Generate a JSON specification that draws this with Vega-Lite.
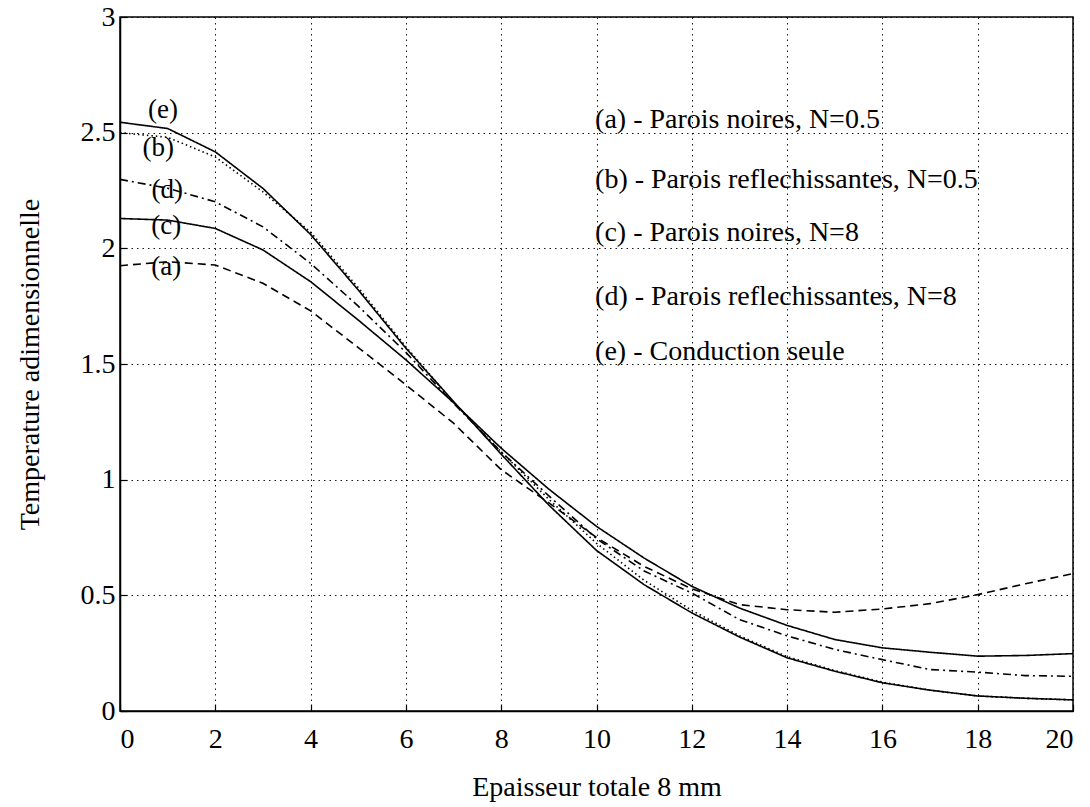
{
  "$schema": "https://vega.github.io/schema/vega-lite/v6.json",
  "width": 953,
  "height": 694,
  "autosize": {"type": "none"},
  "padding": {"left": 120, "top": 17, "right": 17, "bottom": 96},
  "background": "white",
  "config": {
    "font": "Liberation Serif, Times New Roman, serif",
    "view": {"stroke": "black", "strokeWidth": 1.5},
    "axis": {
      "labelFont": "Liberation Serif, Times New Roman, serif",
      "titleFont": "Liberation Serif, Times New Roman, serif",
      "labelColor": "black",
      "titleColor": "black",
      "labelFontSize": 28,
      "titleFontSize": 28,
      "titleFontWeight": "normal",
      "domainColor": "black",
      "domainWidth": 1.5,
      "tickColor": "black",
      "tickSize": -7,
      "tickWidth": 1.2,
      "gridColor": "black",
      "gridDash": [1.5, 4],
      "gridWidth": 1,
      "gridOpacity": 0.9
    }
  },
  "datasets": {
    "curves": [
      {"x": 0, "T": 2.545, "curve": "e"}, {"x": 1, "T": 2.518, "curve": "e"}, {"x": 2, "T": 2.417, "curve": "e"}, {"x": 3, "T": 2.259, "curve": "e"}, {"x": 4, "T": 2.06, "curve": "e"}, {"x": 5, "T": 1.82, "curve": "e"}, {"x": 6, "T": 1.568, "curve": "e"}, {"x": 7, "T": 1.338, "curve": "e"}, {"x": 8, "T": 1.11, "curve": "e"}, {"x": 9, "T": 0.89, "curve": "e"}, {"x": 10, "T": 0.694, "curve": "e"}, {"x": 11, "T": 0.546, "curve": "e"}, {"x": 12, "T": 0.424, "curve": "e"}, {"x": 13, "T": 0.32, "curve": "e"}, {"x": 14, "T": 0.23, "curve": "e"}, {"x": 15, "T": 0.172, "curve": "e"}, {"x": 16, "T": 0.122, "curve": "e"}, {"x": 17, "T": 0.09, "curve": "e"}, {"x": 18, "T": 0.065, "curve": "e"}, {"x": 19, "T": 0.055, "curve": "e"}, {"x": 20, "T": 0.048, "curve": "e"},
      {"x": 0, "T": 2.5, "curve": "b"}, {"x": 1, "T": 2.48, "curve": "b"}, {"x": 2, "T": 2.395, "curve": "b"}, {"x": 3, "T": 2.244, "curve": "b"}, {"x": 4, "T": 2.07, "curve": "b"}, {"x": 5, "T": 1.83, "curve": "b"}, {"x": 6, "T": 1.575, "curve": "b"}, {"x": 7, "T": 1.335, "curve": "b"}, {"x": 8, "T": 1.12, "curve": "b"}, {"x": 9, "T": 0.915, "curve": "b"}, {"x": 10, "T": 0.725, "curve": "b"}, {"x": 11, "T": 0.565, "curve": "b"}, {"x": 12, "T": 0.435, "curve": "b"}, {"x": 13, "T": 0.325, "curve": "b"}, {"x": 14, "T": 0.235, "curve": "b"}, {"x": 15, "T": 0.175, "curve": "b"}, {"x": 16, "T": 0.125, "curve": "b"}, {"x": 17, "T": 0.09, "curve": "b"}, {"x": 18, "T": 0.065, "curve": "b"}, {"x": 19, "T": 0.055, "curve": "b"}, {"x": 20, "T": 0.048, "curve": "b"},
      {"x": 0, "T": 2.298, "curve": "d"}, {"x": 1, "T": 2.26, "curve": "d"}, {"x": 2, "T": 2.201, "curve": "d"}, {"x": 3, "T": 2.093, "curve": "d"}, {"x": 4, "T": 1.935, "curve": "d"}, {"x": 5, "T": 1.75, "curve": "d"}, {"x": 6, "T": 1.55, "curve": "d"}, {"x": 7, "T": 1.33, "curve": "d"}, {"x": 8, "T": 1.12, "curve": "d"}, {"x": 9, "T": 0.93, "curve": "d"}, {"x": 10, "T": 0.745, "curve": "d"}, {"x": 11, "T": 0.605, "curve": "d"}, {"x": 12, "T": 0.51, "curve": "d"}, {"x": 13, "T": 0.395, "curve": "d"}, {"x": 14, "T": 0.325, "curve": "d"}, {"x": 15, "T": 0.266, "curve": "d"}, {"x": 16, "T": 0.222, "curve": "d"}, {"x": 17, "T": 0.179, "curve": "d"}, {"x": 18, "T": 0.168, "curve": "d"}, {"x": 19, "T": 0.153, "curve": "d"}, {"x": 20, "T": 0.15, "curve": "d"},
      {"x": 0, "T": 2.129, "curve": "c"}, {"x": 1, "T": 2.122, "curve": "c"}, {"x": 2, "T": 2.086, "curve": "c"}, {"x": 3, "T": 1.993, "curve": "c"}, {"x": 4, "T": 1.856, "curve": "c"}, {"x": 5, "T": 1.69, "curve": "c"}, {"x": 6, "T": 1.518, "curve": "c"}, {"x": 7, "T": 1.333, "curve": "c"}, {"x": 8, "T": 1.136, "curve": "c"}, {"x": 9, "T": 0.959, "curve": "c"}, {"x": 10, "T": 0.798, "curve": "c"}, {"x": 11, "T": 0.661, "curve": "c"}, {"x": 12, "T": 0.539, "curve": "c"}, {"x": 13, "T": 0.445, "curve": "c"}, {"x": 14, "T": 0.37, "curve": "c"}, {"x": 15, "T": 0.309, "curve": "c"}, {"x": 16, "T": 0.273, "curve": "c"}, {"x": 17, "T": 0.254, "curve": "c"}, {"x": 18, "T": 0.237, "curve": "c"}, {"x": 19, "T": 0.24, "curve": "c"}, {"x": 20, "T": 0.248, "curve": "c"},
      {"x": 0, "T": 1.925, "curve": "a"}, {"x": 1, "T": 1.942, "curve": "a"}, {"x": 2, "T": 1.928, "curve": "a"}, {"x": 3, "T": 1.849, "curve": "a"}, {"x": 4, "T": 1.73, "curve": "a"}, {"x": 5, "T": 1.571, "curve": "a"}, {"x": 6, "T": 1.41, "curve": "a"}, {"x": 7, "T": 1.244, "curve": "a"}, {"x": 8, "T": 1.043, "curve": "a"}, {"x": 9, "T": 0.9, "curve": "a"}, {"x": 10, "T": 0.75, "curve": "a"}, {"x": 11, "T": 0.625, "curve": "a"}, {"x": 12, "T": 0.528, "curve": "a"}, {"x": 13, "T": 0.46, "curve": "a"}, {"x": 14, "T": 0.438, "curve": "a"}, {"x": 15, "T": 0.427, "curve": "a"}, {"x": 16, "T": 0.441, "curve": "a"}, {"x": 17, "T": 0.464, "curve": "a"}, {"x": 18, "T": 0.503, "curve": "a"}, {"x": 19, "T": 0.55, "curve": "a"}, {"x": 20, "T": 0.594, "curve": "a"}
    ],
    "labels": [
      {"x": 0.9, "T": 2.597, "text": "(e)"},
      {"x": 0.8, "T": 2.433, "text": "(b)"},
      {"x": 0.99, "T": 2.252, "text": "(d)"},
      {"x": 0.97, "T": 2.096, "text": "(c)"},
      {"x": 0.97, "T": 1.919, "text": "(a)"}
    ],
    "legend": [
      {"x": 9.97, "T": 2.554, "text": "(a) - Parois noires, N=0.5"},
      {"x": 9.97, "T": 2.295, "text": "(b) - Parois reflechissantes, N=0.5"},
      {"x": 9.97, "T": 2.065, "text": "(c) - Parois noires, N=8"},
      {"x": 9.97, "T": 1.791, "text": "(d) - Parois reflechissantes, N=8"},
      {"x": 9.97, "T": 1.554, "text": "(e) - Conduction seule"}
    ]
  },
  "layer": [
    {
      "data": {"name": "curves"},
      "mark": {"type": "line", "color": "black", "strokeWidth": 1.6},
      "encoding": {
        "x": {
          "field": "x", "type": "quantitative",
          "scale": {"domain": [0, 20], "nice": false},
          "axis": {"values": [0, 2, 4, 6, 8, 10, 12, 14, 16, 18, 20], "title": "Epaisseur totale 8 mm", "labelPadding": 21, "titlePadding": 20, "grid": true}
        },
        "y": {
          "field": "T", "type": "quantitative",
          "scale": {"domain": [0, 3], "nice": false},
          "axis": {"values": [0, 0.5, 1, 1.5, 2, 2.5, 3], "format": "~g", "title": "Temperature adimensionnelle", "labelPadding": 12, "titlePadding": 36, "grid": true}
        },
        "detail": {"field": "curve"},
        "strokeDash": {
          "field": "curve", "type": "nominal",
          "scale": {"domain": ["a", "b", "c", "d", "e"], "range": [[8, 5], [1.5, 3], [1, 0], [8, 4, 2, 4], [1, 0]]},
          "legend": null
        }
      }
    },
    {
      "data": {"name": "labels"},
      "mark": {"type": "text", "font": "Liberation Serif, Times New Roman, serif", "fontSize": 27, "color": "black", "align": "center", "baseline": "middle"},
      "encoding": {
        "x": {"field": "x", "type": "quantitative"},
        "y": {"field": "T", "type": "quantitative"},
        "text": {"field": "text"}
      }
    },
    {
      "data": {"name": "legend"},
      "mark": {"type": "text", "font": "Liberation Serif, Times New Roman, serif", "fontSize": 28, "color": "black", "align": "left", "baseline": "middle"},
      "encoding": {
        "x": {"field": "x", "type": "quantitative"},
        "y": {"field": "T", "type": "quantitative"},
        "text": {"field": "text"}
      }
    }
  ]
}
